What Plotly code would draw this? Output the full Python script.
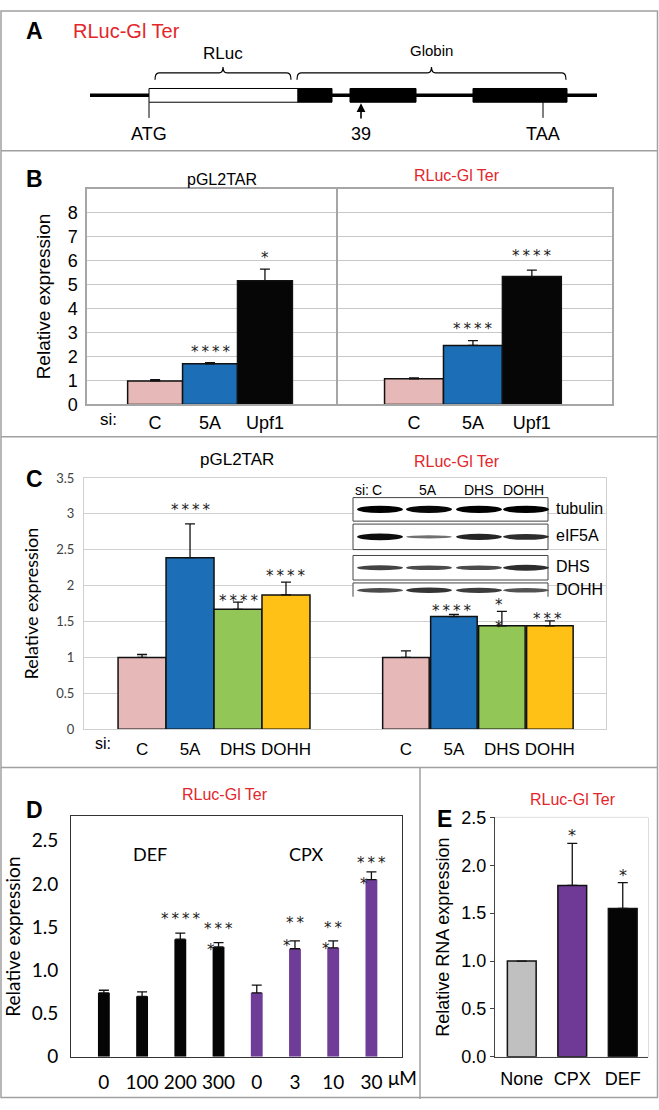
import plotly.graph_objects as go

W, H = 659, 1110
ARIAL = "Arial, Liberation Sans, sans-serif"
CALIBRI = "Lato, Carlito, sans-serif"
STAR_FONT = "DejaVu Sans, sans-serif"
RED = "#E3262B"
TS = "\u2009"  # thin space between asterisks

# ---------------- data ----------------
# Panel A : construct schematic (schematic units along the construct)
A_LINE = [90, 597]
A_RLUC = [149, 298]
A_EXONS = [(298, 332), (350, 416), (473, 567)]
A_BRACKETS = [("RLuc", 155, 291), ("Globin", 297, 566)]
A_MARKS = [("ATG", 149, "tick"), ("39", 361, "arrow"), ("TAA", 543, "tick")]

# Panel B
B_CATS = ["C", "5A", "Upf1"]
B_COLORS = ["#E6B9B8", "#1C6EB6", "#060606"]
B_PGL = [0.98, 1.69, 5.16]
B_PGL_ERR = [0.05, 0.05, 0.48]
B_PGL_SIG = [0, 4, 1]
B_PGL_SIG_Y = [None, 2.3, 6.23]
B_RLUC = [1.07, 2.46, 5.33]
B_RLUC_ERR = [0.04, 0.2, 0.27]
B_RLUC_SIG = [0, 4, 4]
B_RLUC_SIG_Y = [None, 3.25, 6.3]

# Panel C
C_CATS = ["C", "5A", "DHS", "DOHH"]
C_COLORS = ["#E6B9B8", "#1C6EB6", "#92C656", "#FFC115"]
C_PGL = [1.0, 2.39, 1.67, 1.87]
C_PGL_ERR = [0.04, 0.47, 0.10, 0.18]
C_PGL_SIG = [0, 4, 4, 4]
C_PGL_SIG_Y = [None, 3.1, 1.83, 2.17]
C_RLUC = [1.0, 1.57, 1.44, 1.44]
C_RLUC_ERR = [0.09, 0.03, 0.20, 0.07]
C_RLUC_SIG = [0, 4, 1, 3]
C_RLUC_SIG_Y = [None, 1.69, 1.77, 1.58]
C_RLUC_SIG2 = [0, 0, 1, 0]
C_RLUC_SIG2_Y = [None, None, 1.46, None]

# Western blot inset (panel C)
BLOT_LANES = ["C", "5A", "DHS", "DOHH"]
BLOT_PROTEINS = ["tubulin", "eIF5A", "DHS", "DOHH"]
# relative band strength per protein (rows) and lane (columns)
BLOT_BANDS = [
    [1.0, 0.95, 1.0, 1.0],
    [0.9, 0.25, 0.75, 0.7],
    [0.55, 0.5, 0.5, 0.7],
    [0.5, 0.65, 0.6, 0.45],
]

# Panel D
D_CATS = ["0", "100", "200", "300", "0", "3", "10", "30"]
D_COLORS = ["#050505"] * 4 + ["#6F3C98"] * 4
D_VALUES = [0.74, 0.70, 1.36, 1.27, 0.74, 1.25, 1.26, 2.05]
D_ERR = [0.03, 0.05, 0.07, 0.05, 0.09, 0.09, 0.08, 0.09]
D_SIG = [0, 0, 4, 3, 0, 2, 2, 3]
D_SIG_Y = [None, None, 1.63, 1.51, None, 1.58, 1.53, 2.28]
D_SIG2 = [0, 0, 0, 1, 0, 1, 1, 1]
D_SIG2_Y = [None, None, None, 1.27, None, 1.32, 1.28, 2.03]
D_TICKS = [0, 0.5, 1.0, 1.5, 2.0, 2.5]
D_GRID = [1, 2, 3, 4, 5, 6, 7]
D_GROUPS = [("DEF", 1.2, 2.35), ("CPX", 5.3, 2.35)]

# Panel E
E_CATS = ["None", "CPX", "DEF"]
E_COLORS = ["#C0C0C0", "#6E3A96", "#050505"]
E_VALUES = [1.0, 1.79, 1.55]
E_ERR = [0.0, 0.44, 0.27]
E_SIG = [0, 1, 1]
E_SIG_Y = [None, 2.34, 1.92]

# ---------------- figure ----------------
fig = go.Figure()


def px_x(p):
    return p / W


def px_y(p):
    return 1 - p / H


def bar(xa, ya, xs, ys, err, colors, width, outline=True):
    fig.add_trace(go.Bar(
        x=xs, y=ys, width=width, xaxis=xa, yaxis=ya,
        marker=dict(color=colors,
                    line=dict(color="#111111", width=1.5 if outline else 0)),
        error_y=dict(type="data", symmetric=False, array=err,
                     arrayminus=[0] * len(err), color="#111111",
                     thickness=1.3, width=5, visible=True),
        showlegend=False, hoverinfo="skip"))


def sig(xa, ya, xs, counts, ys, size=15, dx=0.0):
    for x, n, y in zip(xs, counts, ys):
        if n:
            fig.add_annotation(x=x + dx, y=y, xref=xa, yref=ya,
                               text=TS.join(["*"] * n),
                               showarrow=False, yshift=-3,
                               font=dict(family=STAR_FONT, size=size,
                                         color="#1a1a1a"))


def label(x, y, text, size=16, color="black", family=ARIAL, bold=False,
          xanchor="center", xref="x", yref="y"):
    if bold:
        text = "<b>" + text + "</b>"
    fig.add_annotation(x=x, y=y, xref=xref, yref=yref, text=text,
                       showarrow=False, xanchor=xanchor, yanchor="middle",
                       font=dict(family=family, size=size, color=color))


# ---- canvas axis (whole figure, pixel-like units) for schematic & borders
fig.add_trace(go.Scatter(x=[None], y=[None], xaxis="x", yaxis="y",
                         showlegend=False, hoverinfo="skip"))

# panel borders
fig.add_shape(type="rect", x0=1, y0=1, x1=W - 1.5, y1=H - 1.5, xref="x",
              yref="y", line=dict(color="#A0A0A0", width=1.5), layer="above")
for yy in [143.5, 435, 772]:
    fig.add_shape(type="line", x0=1, x1=W - 1.5, y0=yy, y1=yy, xref="x",
                  yref="y", line=dict(color="#A0A0A0", width=1.5), layer="above")
fig.add_shape(type="line", x0=420, x1=420, y0=772, y1=H, xref="x", yref="y",
              line=dict(color="#A0A0A0", width=1.5), layer="above")

# ---- Panel A
label(34, 21, "A", size=23, bold=True)
label(71, 21, "RLuc-Gl Ter", size=20, color=RED, xanchor="left")
fig.add_shape(type="line", x0=A_LINE[0], x1=A_LINE[1], y0=87, y1=87,
              xref="x", yref="y", line=dict(color="black", width=3.5))
fig.add_shape(type="rect", x0=A_RLUC[0], x1=A_RLUC[1], y0=80, y1=94,
              xref="x", yref="y", fillcolor="white",
              line=dict(color="black", width=1))
for e0, e1 in A_EXONS:
    fig.add_shape(type="rect", x0=e0, x1=e1, y0=80, y1=94, xref="x",
                  yref="y", fillcolor="black", line=dict(color="black", width=1))
for name, b0, b1 in A_BRACKETS:
    m = (b0 + b1) / 2
    path = (f"M{b0},71 Q{b0},64 {b0+4},64 L{m-4},64 Q{m},64 {m},58 "
            f"Q{m},64 {m+4},64 L{b1-4},64 Q{b1},64 {b1},71")
    fig.add_shape(type="path", path=path, xref="x", yref="y",
                  line=dict(color="black", width=1.2))
    label(m, 44 if name == "RLuc" else 41, name,
          size=17 if name == "RLuc" else 15)
for name, xm, kind in A_MARKS:
    if kind == "tick":
        fig.add_shape(type="line", x0=xm, x1=xm, y0=94, y1=110, xref="x",
                      yref="y", line=dict(color="black", width=1))
    else:
        fig.add_annotation(x=xm, y=95, ax=xm, ay=112, xref="x", yref="y",
                           axref="x", ayref="y", text="", showarrow=True,
                           arrowhead=2, arrowsize=1.1, arrowwidth=1.6,
                           arrowcolor="black")
    label(xm, 126, name, size=18)

# ---- Panel B
label(34, 172, "B", size=23, bold=True)
label(222, 173, "pGL2TAR", size=16)
label(457, 169, "RLuc-Gl Ter", size=16, color=RED)
bx = list(range(len(B_CATS)))
bar("x2", "y2", bx, B_PGL, B_PGL_ERR, B_COLORS, 1.0)
bar("x3", "y3", bx, B_RLUC, B_RLUC_ERR, B_COLORS, 1.0)
sig("x2", "y2", bx, B_PGL_SIG, B_PGL_SIG_Y)
sig("x3", "y3", bx, B_RLUC_SIG, B_RLUC_SIG_Y)
label(-0.85, px_y(417), "si:", size=17, xref="x2", yref="paper")

# ---- Panel C
label(34, 478, "C", size=23, bold=True)
label(237, 458, "pGL2TAR", size=17)
label(457, 460, "RLuc-Gl Ter", size=16, color=RED)
cx_left = [0, 1, 2, 3]
cx_right = [5.5, 6.5, 7.5, 8.5]
bar("x4", "y4", cx_left, C_PGL, C_PGL_ERR, C_COLORS, 1.0)
bar("x4", "y4", cx_right, C_RLUC, C_RLUC_ERR, C_COLORS, 0.97)
sig("x4", "y4", cx_left, C_PGL_SIG, C_PGL_SIG_Y)
sig("x4", "y4", cx_right, C_RLUC_SIG, C_RLUC_SIG_Y, dx=-0.05)
sig("x4", "y4", cx_right, C_RLUC_SIG2, C_RLUC_SIG2_Y, dx=-0.05)
label(-0.81, px_y(748), "si:", size=16, xref="x4", yref="paper")

# western blot inset (canvas units)
blot_x0, blot_x1 = 353, 548
lane_x = [380, 429, 479, 526]
row_box = [(497, 521), (524, 550), (556, 581), (584, 598)]
for (y0, y1), prot, bands in zip(row_box, BLOT_PROTEINS, BLOT_BANDS):
    fig.add_shape(type="rect", x0=blot_x0, x1=blot_x1, y0=y0, y1=y1,
                  xref="x", yref="y", fillcolor="white", line_width=0,
                  layer="above")
    if prot == "DOHH":
        path = f"M{blot_x0},{y1} L{blot_x0},{y0} L{blot_x1},{y0} L{blot_x1},{y1}"
        fig.add_shape(type="path", path=path, xref="x", yref="y",
                      line=dict(color="#444", width=1), layer="above")
    else:
        fig.add_shape(type="rect", x0=blot_x0, x1=blot_x1, y0=y0, y1=y1,
                      xref="x", yref="y", line=dict(color="#444", width=1),
                      layer="above")
    yc = (y0 + y1) / 2 if prot != "DOHH" else 591.5
    for lx, s in zip(lane_x, bands):
        hh = 1.0 + 2.8 * s
        g = int(150 * (1 - s))
        fig.add_shape(type="circle", x0=lx - 23, x1=lx + 23, y0=yc - hh,
                      y1=yc + hh, xref="x", yref="y",
                      fillcolor=f"rgb({g},{g},{g})", line_width=0,
                      layer="above")
    label(554, yc - 1, prot, size=16, xanchor="left")
label(blot_x0, 489, "si:", size=14, xanchor="left")
for lx, ln, dxl in zip(lane_x, BLOT_LANES, [-3, -1, 0, -3]):
    label(lx + dxl, 489, ln, size=14)

# ---- Panel D
label(34, 815, "D", size=23, bold=True)
label(225, 800, "RLuc-Gl Ter", size=16, color=RED)
dx = list(range(len(D_CATS)))
bar("x6", "y6", dx, D_VALUES, D_ERR, D_COLORS, 0.31, outline=False)
sig("x6", "y6", dx, D_SIG, D_SIG_Y)
sig("x6", "y6", dx, D_SIG2, D_SIG2_Y, dx=-0.2)
for name, gx, gy in D_GROUPS:
    label(gx, gy, name, size=18, family=CALIBRI, xref="x6", yref="y6")
fig.add_annotation(x=7.38, y=px_y(1088), xref="x6", yref="paper", text="\u03bcM",
                   showarrow=False, xanchor="left", yanchor="middle",
                   font=dict(family=CALIBRI, size=19, color="black"))
fig.add_trace(go.Scatter(x=[None], y=[None], xaxis="x6", yaxis="y7",
                         showlegend=False, hoverinfo="skip"))
for gv in D_GRID:
    fig.add_shape(type="line", xref="x6 domain", yref="y7", x0=0.036,
                  x1=0.965, y0=gv, y1=gv, line=dict(color="#D9D9D9", width=1),
                  layer="below")

# ---- Panel E
label(444, 825, "E", size=23, bold=True)
label(573, 805, "RLuc-Gl Ter", size=16, color=RED)
ex = list(range(len(E_CATS)))
bar("x8", "y8", ex, E_VALUES, E_ERR, E_COLORS, 0.57)
sig("x8", "y8", ex, E_SIG, E_SIG_Y, size=16)
fig.add_shape(type="rect", xref="x8 domain", yref="y8 domain", x0=0, x1=1,
              y0=0, y1=1, line=dict(color="#BBBBBB", width=1), layer="below")

# ---------------- layout ----------------
hidden = dict(visible=False, fixedrange=True)
clear_tick = dict(ticks="outside", tickcolor="rgba(0,0,0,0)")
fig.update_layout(
    width=W, height=H, margin=dict(l=0, r=0, t=0, b=0),
    paper_bgcolor="white", plot_bgcolor="white", showlegend=False,
    font=dict(family=ARIAL, color="black"),
    xaxis=dict(domain=[0, 1], range=[0, W], anchor="y", **hidden),
    yaxis=dict(domain=[0, 1], range=[H, 0], anchor="x", **hidden),
    # panel B
    xaxis2=dict(domain=[px_x(87), px_x(338)], range=[-1.24, 3.33], anchor="y2",
                tickvals=bx, ticktext=B_CATS, tickfont=dict(size=18),
                showline=True, mirror=True, linecolor="#A6A6A6", linewidth=1.5,
                showgrid=False, zeroline=False, ticklen=1, **clear_tick),
    yaxis2=dict(domain=[px_y(402), px_y(182)], range=[0, 9], anchor="x2",
                tickvals=list(range(9)), tickfont=dict(size=18),
                showgrid=True, gridcolor="#C8C8C8", gridwidth=1,
                showline=True, mirror=True, linecolor="#A6A6A6", linewidth=1.5,
                zeroline=False, ticklen=4, **clear_tick,
                title=dict(text="Relative expression", font=dict(size=19),
                           standoff=12)),
    xaxis3=dict(domain=[px_x(338), px_x(612)], range=[-1.29, 3.36], anchor="y3",
                tickvals=bx, ticktext=B_CATS, tickfont=dict(size=18),
                showline=True, mirror=True, linecolor="#A6A6A6", linewidth=1.5,
                showgrid=False, zeroline=False, ticklen=1, **clear_tick),
    yaxis3=dict(domain=[px_y(402), px_y(182)], range=[0, 9], anchor="x3",
                tickvals=list(range(9)), showticklabels=False,
                showgrid=True, gridcolor="#C8C8C8", gridwidth=1,
                showline=True, mirror=True, linecolor="#A6A6A6", linewidth=1.5,
                zeroline=False, ticks=""),
    # panel C
    xaxis4=dict(domain=[px_x(84), px_x(606)], range=[-1.21, 9.67], anchor="y4",
                tickvals=cx_left + cx_right, ticktext=C_CATS + C_CATS,
                tickfont=dict(size=17), showline=True, mirror=True,
                linecolor="#D0D0D0", linewidth=1, showgrid=False,
                zeroline=False, ticklen=4, **clear_tick),
    yaxis4=dict(domain=[px_y(733), px_y(477)], range=[0, 3.5], anchor="x4",
                dtick=0.5, tickfont=dict(size=13, family=CALIBRI, color="#404040"),
                showgrid=True, gridcolor="#D0D0D0", gridwidth=1,
                showline=True, mirror=True, linecolor="#D0D0D0", linewidth=1,
                zeroline=False, ticklen=6, **clear_tick,
                title=dict(text="Relative expression",
                           font=dict(size=18, family=CALIBRI), standoff=12)),
    # panel D
    xaxis6=dict(domain=[px_x(71), px_x(402)], range=[-0.86, 7.8], anchor="y6",
                tickvals=dx, ticktext=D_CATS,
                tickfont=dict(size=19, family=CALIBRI),
                showline=True, mirror=True, linecolor="#333333", linewidth=1,
                showgrid=False, zeroline=False, ticklen=8, **clear_tick),
    yaxis6=dict(domain=[px_y(1067), px_y(822)], range=[0, 2.78], anchor="x6",
                tickvals=D_TICKS, ticktext=[("%.1f" % t) if t else "0" for t in D_TICKS],
                tickfont=dict(size=19, family=CALIBRI),
                showline=True, mirror=True, linecolor="#333333", linewidth=1,
                showgrid=False, zeroline=False, ticklen=8, **clear_tick,
                title=dict(text="Relative expression",
                           font=dict(size=19, family=CALIBRI), standoff=6)),
    yaxis7=dict(domain=[px_y(1067), px_y(822)], range=[0, 7.63], anchor="x6",
                overlaying="y6", visible=False, fixedrange=True),
    # panel E
    xaxis8=dict(domain=[px_x(495), px_x(648)], range=[-0.53, 2.5], anchor="y8",
                tickvals=ex, ticktext=E_CATS, tickfont=dict(size=18),
                showline=True, linecolor="#444444", linewidth=1.2,
                showgrid=False, zeroline=False, ticklen=5, **clear_tick),
    yaxis8=dict(domain=[px_y(1067), px_y(823)], range=[0, 2.5], anchor="x8",
                dtick=0.5, tickformat=".1f", tickfont=dict(size=18),
                showline=True, linecolor="#444444", linewidth=1.2,
                showgrid=False, zeroline=False, ticks="outside", ticklen=4,
                tickcolor="#444444",
                title=dict(text="Relative RNA expression", font=dict(size=18),
                           standoff=6)),
)

fig.write_html("out.html", config={"displayModeBar": False},
               post_script="document.body.style.margin='0px';")
